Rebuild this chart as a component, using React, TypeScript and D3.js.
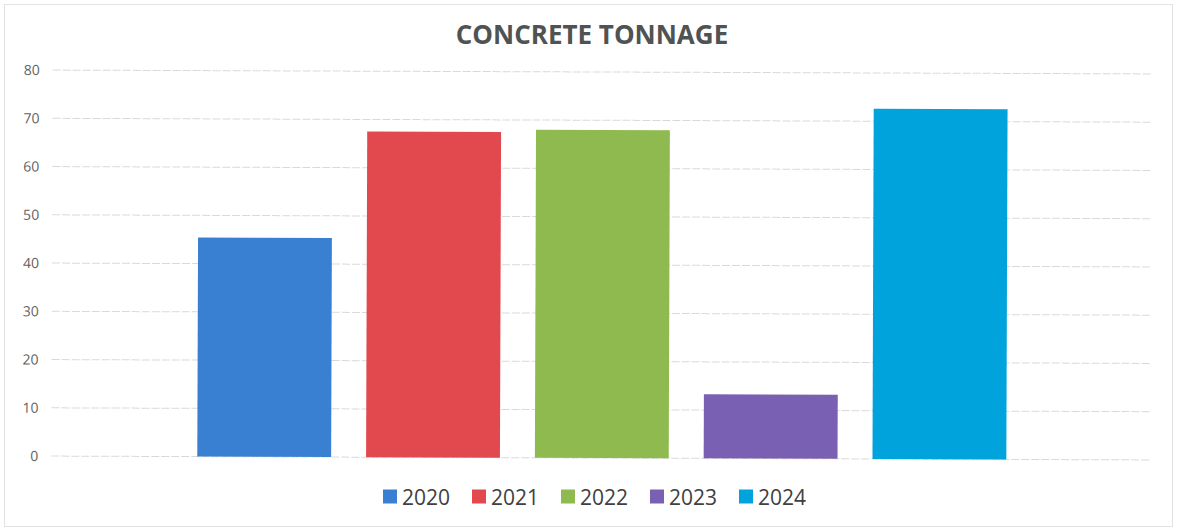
import React from "react";
import * as d3 from "d3";

const years = ["2020", "2021", "2022", "2023", "2024"];
const values = [45.4, 67.5, 68, 13.3, 72.6];
const colors = ["#3a80d2", "#e2494f", "#8fba4f", "#7a60b2", "#00a3dc"];
const yTicks = [0, 10, 20, 30, 40, 50, 60, 70, 80];
const title = "CONCRETE TONNAGE";

const W = 1177;
const H = 531;
const plotLeft = 52;
const plotRight = 1152;

export default function App() {
  const y = d3.scaleLinear().domain([0, 80]).range([458, 72]);
  const x = d3
    .scaleBand<string>()
    .domain(years)
    .range([198 - 17.5, 1007 + 17.5])
    .paddingInner(0.207)
    .paddingOuter(0.1035);

  const font = "'Open Sans', 'Liberation Sans', sans-serif";
  const legend = d3.scaleBand<string>().domain(years).range([383, 383 + 89 * 5]);

  return (
    <svg
      width={W}
      height={H}
      style={{ position: "absolute", left: 0, top: 0, background: "#fff" }}
      fontFamily={font}
    >
      <rect x={0} y={0} width={W} height={H} fill="#fff" />
      <rect x={4.5} y={4.5} width={W - 9} height={H - 9} fill="none" stroke="#e2e2e2" />
      <text
        x={592}
        y={43.5}
        textAnchor="middle"
        fontSize={26}
        fontWeight="bold"
        fill="#4f5352"
      >
        {title}
      </text>
      <g transform="rotate(0.2, 600, 260)">
        {yTicks.map((t) => (
          <g key={t}>
            <line
              x1={plotLeft}
              x2={plotRight}
              y1={y(t)}
              y2={y(t)}
              stroke="#d9d9d9"
              strokeWidth={1}
              strokeDasharray="8,2"
            />
            <text
              x={39}
              y={y(t)}
              dy="0.35em"
              textAnchor="end"
              fontSize={14}
              fill="#5f5f5f"
            >
              {t}
            </text>
          </g>
        ))}
        {years.map((yr, i) => (
          <rect
            key={yr}
            x={x(yr)}
            y={y(values[i])}
            width={x.bandwidth()}
            height={y(0) - y(values[i])}
            fill={colors[i]}
          />
        ))}
      </g>
      {years.map((yr, i) => (
        <g key={yr} transform={`translate(${legend(yr)},0)`}>
          <rect x={0} y={489.5} width={14} height={14} fill={colors[i]} />
          <text x={19} y={497} dy="0.36em" fontSize={21} fill="#404040">
            {yr}
          </text>
        </g>
      ))}
    </svg>
  );
}
